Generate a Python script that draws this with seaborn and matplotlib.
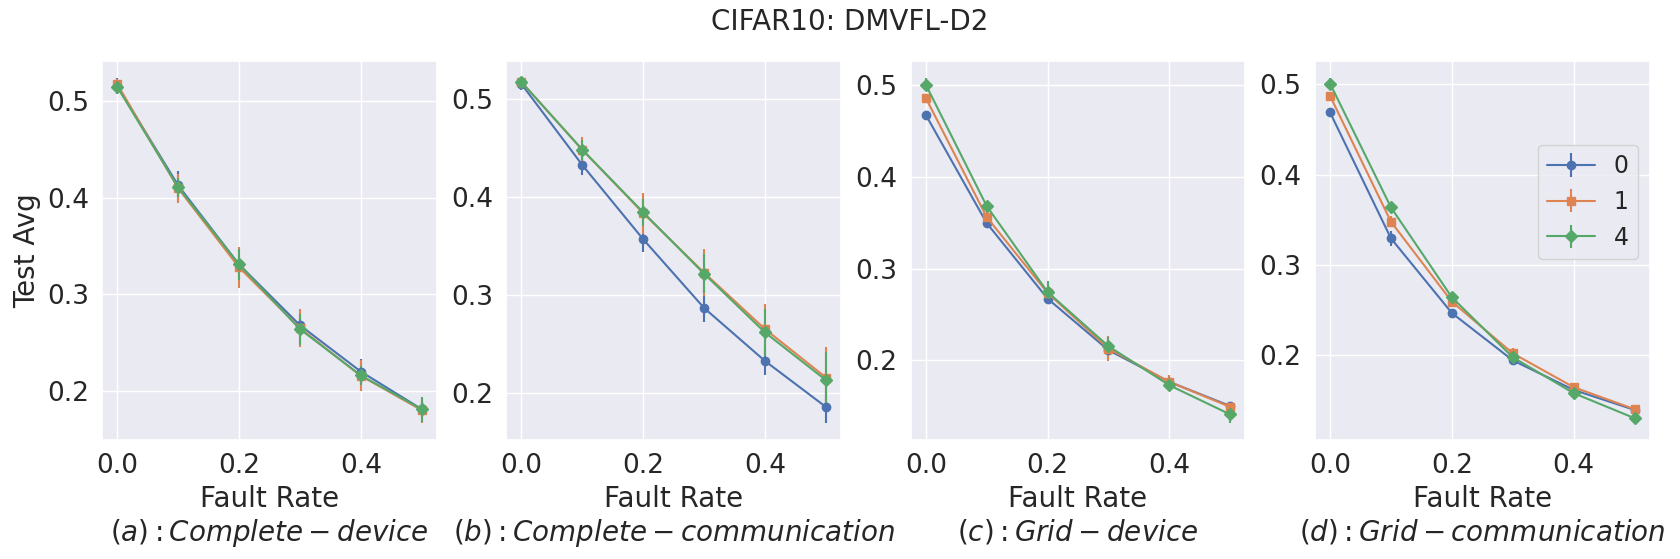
import matplotlib
matplotlib.use("Agg")
import matplotlib.pyplot as plt
from matplotlib.ticker import MultipleLocator
import seaborn as sns

fault_rates = [0.0, 0.1, 0.2, 0.3, 0.4, 0.5]
series_labels = ['0', '1', '4']
captions = ['$(a): Complete-device$', '$(b): Complete-communication$',
            '$(c): Grid-device$', '$(d): Grid-communication$']

# (a) Complete - device
a_mean_0 = [0.516, 0.413, 0.331, 0.268, 0.220, 0.181]
a_mean_1 = [0.518, 0.410, 0.328, 0.265, 0.2156, 0.180]
a_mean_4 = [0.515, 0.411, 0.331, 0.264, 0.216, 0.181]
a_err_0 = [0.008, 0.015, 0.008, 0.008, 0.013, 0.008]
a_err_1 = [0.005, 0.015, 0.021, 0.020, 0.016, 0.013]
a_err_4 = [0.005, 0.010, 0.016, 0.016, 0.010, 0.013]

# (b) Complete - communication
b_mean_0 = [0.515, 0.4324, 0.3568, 0.2868, 0.2328, 0.186]
b_mean_1 = [0.517, 0.448, 0.3835, 0.3227, 0.2653, 0.216]
b_mean_4 = [0.517, 0.448, 0.3842, 0.3217, 0.2619, 0.2133]
b_err_0 = [0.006, 0.010, 0.013, 0.014, 0.014, 0.016]
b_err_1 = [0.004, 0.013, 0.021, 0.024, 0.026, 0.031]
b_err_4 = [0.004, 0.010, 0.014, 0.020, 0.024, 0.029]

# (c) Grid - device
c_mean_0 = [0.468, 0.3498, 0.2673, 0.211, 0.1764, 0.150]
c_mean_1 = [0.4865, 0.3564, 0.2735, 0.2127, 0.1764, 0.149]
c_mean_4 = [0.501, 0.3684, 0.2745, 0.2153, 0.1727, 0.1408]
c_err_0 = [0.004, 0.004, 0.005, 0.005, 0.004, 0.004]
c_err_1 = [0.004, 0.005, 0.006, 0.014, 0.008, 0.004]
c_err_4 = [0.007, 0.004, 0.012, 0.010, 0.005, 0.009]

# (d) Grid - communication
d_mean_0 = [0.469, 0.3293, 0.2465, 0.194, 0.1612, 0.139]
d_mean_1 = [0.4874, 0.3478, 0.2591, 0.2018, 0.1642, 0.1398]
d_mean_4 = [0.501, 0.3637, 0.2639, 0.1974, 0.1576, 0.1298]
d_err_0 = [0.004, 0.008, 0.004, 0.004, 0.003, 0.003]
d_err_1 = [0.004, 0.006, 0.006, 0.006, 0.004, 0.004]
d_err_4 = [0.006, 0.005, 0.004, 0.004, 0.003, 0.005]

panels = [
    ([a_mean_0, a_mean_1, a_mean_4], [a_err_0, a_err_1, a_err_4]),
    ([b_mean_0, b_mean_1, b_mean_4], [b_err_0, b_err_1, b_err_4]),
    ([c_mean_0, c_mean_1, c_mean_4], [c_err_0, c_err_1, c_err_4]),
    ([d_mean_0, d_mean_1, d_mean_4], [d_err_0, d_err_1, d_err_4]),
]

sns.set_theme(style='darkgrid')
plt.rcParams.update({
    'xtick.labelsize': 19,
    'ytick.labelsize': 19,
    'axes.labelsize': 20,
    'legend.fontsize': 17,
})
colors = sns.color_palette('deep')
markers = ['o', 's', 'D']

fig, axes = plt.subplots(1, 4, figsize=(16.8, 5.59), dpi=100)
fig.subplots_adjust(left=0.0607, right=0.982, bottom=0.213, top=0.891, wspace=0.207)

for k, (ax, (means, errs)) in enumerate(zip(axes, panels)):
    for mean, err, lab, col, mk in zip(means, errs, series_labels, colors, markers):
        ax.errorbar(fault_rates, mean, yerr=err, label=lab, color=col,
                    marker=mk, markersize=6, linewidth=1.5)
    ax.xaxis.set_major_locator(MultipleLocator(0.2))
    ax.yaxis.set_major_locator(MultipleLocator(0.1))
    ax.set_xlabel('Fault Rate\n' + captions[k])
    if k == 0:
        ax.set_ylabel('Test Avg')

axes[3].legend(loc='center right', bbox_to_anchor=(1.0, 0.628))
fig.suptitle('CIFAR10: DMVFL-D2', x=0.506, y=0.961, va='center', fontsize=20)

fig.savefig('out.png', dpi=100)
